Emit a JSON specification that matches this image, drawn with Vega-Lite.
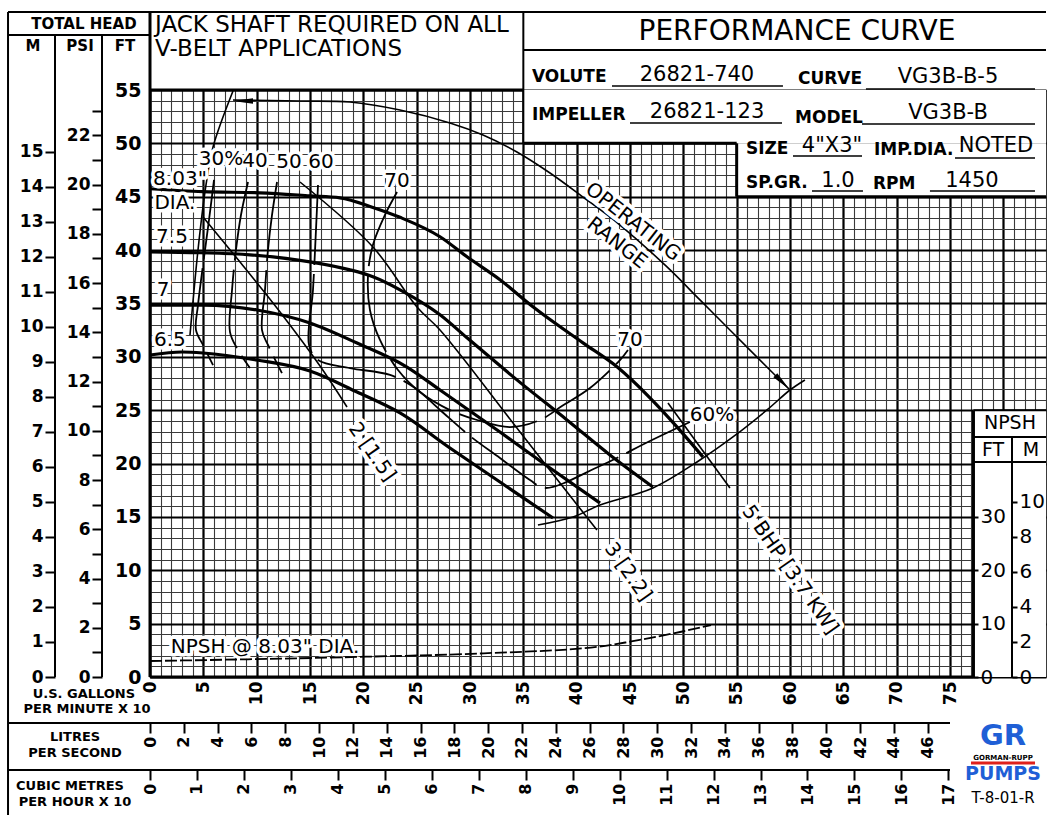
{
"$schema":"https://vega.github.io/schema/vega-lite/v6.json",
"width":896,"height":587,
"autosize":{"type":"none"},
"padding":{"left":150,"top":90,"right":1,"bottom":138},
"background":"white",
"config":{"view":{"stroke":null},"font":"DejaVu Sans","axis":{"labelFont":"DejaVu Sans","labelColor":"black","tickColor":"black","title":null}},
"datasets":{
"heads":[
{"c":"d803","i":0,"x":0,"y":45.75},{"c":"d803","i":1,"x":4.97,"y":45.47},{"c":"d803","i":2,"x":10.31,"y":45.37},{"c":"d803","i":3,"x":15,"y":45.09},{"c":"d803","i":4,"x":17.81,"y":44.9},{"c":"d803","i":5,"x":20.9,"y":44.0},{"c":"d803","i":6,"x":23.44,"y":43.07},{"c":"d803","i":7,"x":27.19,"y":41.25},{"c":"d803","i":8,"x":29.72,"y":39.37},{"c":"d803","i":9,"x":32.81,"y":37.22},{"c":"d803","i":10,"x":35.9,"y":34.69},{"c":"d803","i":11,"x":40.59,"y":31.31},{"c":"d803","i":12,"x":43.78,"y":29.06},{"c":"d803","i":13,"x":46.87,"y":26.16},{"c":"d803","i":14,"x":49.4,"y":23.44},{"c":"d803","i":15,"x":51.84,"y":20.62},
{"c":"d75","i":0,"x":0,"y":39.84},{"c":"d75","i":1,"x":4.69,"y":39.75},{"c":"d75","i":2,"x":9.37,"y":39.56},{"c":"d75","i":3,"x":15,"y":38.9},{"c":"d75","i":4,"x":18.75,"y":38.15},{"c":"d75","i":5,"x":20.9,"y":37.5},{"c":"d75","i":6,"x":23.44,"y":36.28},{"c":"d75","i":7,"x":27.19,"y":33.94},{"c":"d75","i":8,"x":29.72,"y":31.78},{"c":"d75","i":9,"x":34.4,"y":27.84},{"c":"d75","i":10,"x":39.09,"y":24.09},{"c":"d75","i":11,"x":43.12,"y":20.81},{"c":"d75","i":12,"x":47.15,"y":17.81},
{"c":"d7","i":0,"x":0,"y":34.85},{"c":"d7","i":1,"x":4.97,"y":34.85},{"c":"d7","i":2,"x":10.03,"y":34.39},{"c":"d7","i":3,"x":15,"y":33.17},{"c":"d7","i":4,"x":19.41,"y":31.29},{"c":"d7","i":5,"x":24.09,"y":29.04},{"c":"d7","i":6,"x":27.19,"y":26.89},{"c":"d7","i":7,"x":32.81,"y":22.95},{"c":"d7","i":8,"x":37.5,"y":19.58},{"c":"d7","i":9,"x":42.19,"y":16.3},
{"c":"d65","i":0,"x":0,"y":30.17},{"c":"d65","i":1,"x":3.0,"y":30.45},{"c":"d65","i":2,"x":4.97,"y":30.36},{"c":"d65","i":3,"x":10.03,"y":29.7},{"c":"d65","i":4,"x":15,"y":28.67},{"c":"d65","i":5,"x":19.41,"y":26.7},{"c":"d65","i":6,"x":23.44,"y":24.74},{"c":"d65","i":7,"x":28.12,"y":21.46},{"c":"d65","i":8,"x":32.81,"y":18.27},{"c":"d65","i":9,"x":37.78,"y":14.9}
],
"eff":[
{"c":"e30","i":0,"x":6.0,"y":46.57},{"c":"e30","i":1,"x":5.53,"y":42.82},{"c":"e30","i":2,"x":4.97,"y":38.6},{"c":"e30","i":3,"x":4.5,"y":34.85},{"c":"e30","i":4,"x":4.31,"y":32.51},{"c":"e30","i":5,"x":4.97,"y":31.11},{"c":"e30","i":6,"x":5.91,"y":29.23},
{"c":"e40","i":0,"x":9.19,"y":46.38},{"c":"e40","i":1,"x":8.53,"y":43.29},{"c":"e40","i":2,"x":8.06,"y":40.01},{"c":"e40","i":3,"x":7.69,"y":36.26},{"c":"e40","i":4,"x":7.5,"y":32.32},{"c":"e40","i":5,"x":8.25,"y":30.64},{"c":"e40","i":6,"x":9.37,"y":28.95},
{"c":"e50","i":0,"x":11.91,"y":46.38},{"c":"e50","i":1,"x":11.44,"y":43.29},{"c":"e50","i":2,"x":11.06,"y":40.01},{"c":"e50","i":3,"x":10.78,"y":36.26},{"c":"e50","i":4,"x":10.5,"y":32.51},{"c":"e50","i":5,"x":11.06,"y":31.11},{"c":"e50","i":6,"x":12.37,"y":28.48},
{"c":"e60","i":0,"x":15.75,"y":46.1},{"c":"e60","i":1,"x":15.56,"y":41.88},{"c":"e60","i":2,"x":15.28,"y":36.26},{"c":"e60","i":3,"x":14.91,"y":31.11},{"c":"e60","i":4,"x":15.75,"y":29.7},{"c":"e60","i":5,"x":18.75,"y":28.95},{"c":"e60","i":6,"x":22.5,"y":28.3},{"c":"e60","i":7,"x":24.84,"y":27.08},{"c":"e60","i":8,"x":27.19,"y":25.02},{"c":"e60","i":9,"x":30.0,"y":22.58},{"c":"e60","i":10,"x":32.81,"y":20.52},{"c":"e60","i":11,"x":35.62,"y":18.46},{"c":"e60","i":12,"x":37.03,"y":17.71},{"c":"e60","i":13,"x":42.19,"y":19.77},{"c":"e60","i":14,"x":46.87,"y":22.11},{"c":"e60","i":15,"x":50.62,"y":23.89},
{"c":"e70","i":0,"x":23.16,"y":45.44},{"c":"e70","i":1,"x":22.03,"y":43.29},{"c":"e70","i":2,"x":20.9,"y":40.48},{"c":"e70","i":3,"x":20.44,"y":37.67},{"c":"e70","i":4,"x":20.62,"y":34.39},{"c":"e70","i":5,"x":21.56,"y":31.58},{"c":"e70","i":6,"x":23.25,"y":28.76},{"c":"e70","i":7,"x":25.31,"y":26.7},{"c":"e70","i":8,"x":28.12,"y":25.01},{"c":"e70","i":9,"x":30.66,"y":24.08},{"c":"e70","i":10,"x":33.75,"y":23.42},{"c":"e70","i":11,"x":36.56,"y":24.08},{"c":"e70","i":12,"x":38.62,"y":25.39},{"c":"e70","i":13,"x":41.25,"y":27.08},{"c":"e70","i":14,"x":44.06,"y":29.7},{"c":"e70","i":15,"x":44.81,"y":30.64}
],
"thin":[
{"c":"b2","i":0,"x":4.97,"y":43.1},{"c":"b2","i":1,"x":8.44,"y":38.88},{"c":"b2","i":2,"x":12.19,"y":34.2},{"c":"b2","i":3,"x":15.94,"y":29.14},{"c":"b2","i":4,"x":18.47,"y":25.3},
{"c":"b3","i":0,"x":14.06,"y":46.38},{"c":"b3","i":1,"x":20.9,"y":40.29},{"c":"b3","i":2,"x":25.03,"y":34.67},{"c":"b3","i":3,"x":27.19,"y":32.51},{"c":"b3","i":4,"x":34.69,"y":22.95},{"c":"b3","i":5,"x":41.9,"y":13.77},
{"c":"b5","i":0,"x":48.56,"y":25.67},{"c":"b5","i":1,"x":54.37,"y":17.71},
{"c":"opU","i":0,"x":7.78,"y":54.06},{"c":"opU","i":1,"x":14.06,"y":53.97},{"c":"opU","i":2,"x":18.75,"y":53.87},{"c":"opU","i":3,"x":23.44,"y":53.12},{"c":"opU","i":4,"x":28.12,"y":51.91},{"c":"opU","i":5,"x":31.22,"y":50.78},{"c":"opU","i":6,"x":34.4,"y":49.19},{"c":"opU","i":7,"x":37.5,"y":47.22},{"c":"opU","i":8,"x":40.59,"y":44.97},{"c":"opU","i":9,"x":44.06,"y":42.35},{"c":"opU","i":10,"x":48.47,"y":38.42},{"c":"opU","i":11,"x":51.56,"y":35.33},{"c":"opU","i":12,"x":54.65,"y":32.23},{"c":"opU","i":13,"x":58.4,"y":28.48},{"c":"opU","i":14,"x":60.0,"y":26.89},
{"c":"opL","i":0,"x":7.78,"y":54.9},{"c":"opL","i":1,"x":5.91,"y":49.66},{"c":"opL","i":2,"x":5.25,"y":46.1},{"c":"opL","i":3,"x":4.5,"y":40.01},{"c":"opL","i":4,"x":3.75,"y":32.04},
{"c":"opB","i":0,"x":61.4,"y":27.83},{"c":"opB","i":1,"x":60.0,"y":26.89},{"c":"opB","i":2,"x":57.84,"y":25.02},{"c":"opB","i":3,"x":54.65,"y":22.49},{"c":"opB","i":4,"x":51.56,"y":20.33},{"c":"opB","i":5,"x":47.15,"y":17.71},{"c":"opB","i":6,"x":42.19,"y":16.12},{"c":"opB","i":7,"x":39.66,"y":14.99},{"c":"opB","i":8,"x":36.37,"y":14.24}
],
"arrowsL":[{"x":8.9,"y":53.97}],
"arrowsR":[{"x":59.16,"y":27.73}],
"masks":[{"x":35,"x2":84,"y":50,"y2":55},{"x":55,"x2":84,"y":45,"y2":50},{"x":77.2,"x2":84,"y":0,"y2":25}],
"frameHeavy":[
{"x":0,"x2":0,"y":0,"y2":62.31},{"x":0,"x2":77.2,"y":0,"y2":0},{"x":0,"x2":35,"y":55,"y2":55},{"x":35,"x2":55,"y":50,"y2":50},{"x":55,"x2":55,"y":45,"y2":50},{"x":55,"x2":84,"y":45,"y2":45},{"x":77.2,"x2":77.2,"y":0,"y2":25}
],
"frame":[
{"x":-13.31,"x2":84,"y":62.31,"y2":62.31},{"x":-13.31,"x2":-13.31,"y":-12.93,"y2":62.31},{"x":35,"x2":35,"y":50,"y2":62.31},{"x":35,"x2":84,"y":58.75,"y2":58.75},{"x":-13.31,"x2":0,"y":60.15,"y2":60.15},{"x":-8.906,"x2":-8.906,"y":0,"y2":60.15},{"x":-4.5,"x2":-4.5,"y":0,"y2":60.15},
{"x":77.2,"x2":84,"y":25,"y2":25},{"x":77.2,"x2":84,"y":22.49,"y2":22.49},{"x":77.2,"x2":84,"y":20.14,"y2":20.14},{"x":80.81,"x2":80.81,"y":0,"y2":22.49},
{"x":-13.31,"x2":75,"y":-4.31,"y2":-4.31},{"x":-13.31,"x2":75,"y":-8.71,"y2":-8.71}
],
"underlines":[
{"x":43.31,"x2":59.34,"y":55.37,"y2":55.37},{"x":67.12,"x2":82.97,"y":55.09,"y2":55.09},{"x":45.0,"x2":59.25,"y":51.9,"y2":51.9},{"x":66.75,"x2":82.97,"y":51.81,"y2":51.81},{"x":60.28,"x2":66.75,"y":48.81,"y2":48.81},{"x":75.47,"x2":82.97,"y":48.63,"y2":48.63},{"x":62.06,"x2":66.84,"y":45.54,"y2":45.54},{"x":73.12,"x2":82.97,"y":45.54,"y2":45.54}
],
"redline":[{"x":76.97,"x2":82.97,"y":-8.06,"y2":-8.06}],
"texts":[
{"g":"hdr","t":"TOTAL HEAD","x":-6.19,"y":61.18},{"g":"hdr","t":"M","x":-10.97,"y":59.12},{"g":"hdr","t":"PSI","x":-6.56,"y":59.12},{"g":"hdr","t":"FT","x":-2.34,"y":59.12},
{"g":"hdr2","t":"U.S. GALLONS","x":-6.2,"y":-1.58},{"g":"hdr2","t":"PER MINUTE X 10","x":-5.9,"y":-3.0},{"g":"hdr2","t":"LITRES","x":-7.03,"y":-5.62},{"g":"hdr2","t":"PER SECOND","x":-7.03,"y":-7.12},{"g":"hdr2","t":"CUBIC METRES","x":-7.5,"y":-10.21},{"g":"hdr2","t":"PER HOUR X 10","x":-7.03,"y":-11.71},
{"g":"note","t":"JACK SHAFT REQUIRED ON ALL","x":0.47,"y":61.09},{"g":"note","t":"V-BELT APPLICATIONS","x":0.47,"y":58.84},
{"g":"title","t":"PERFORMANCE CURVE","x":60.65,"y":60.43},
{"g":"field","t":"VOLUTE","x":35.81,"y":56.22},{"g":"field","t":"CURVE","x":60.75,"y":56.03},{"g":"field","t":"IMPELLER","x":35.81,"y":52.66},{"g":"field","t":"MODEL","x":60.47,"y":52.38},{"g":"field","t":"SIZE","x":55.87,"y":49.47},{"g":"field","t":"IMP.DIA.","x":67.87,"y":49.38},{"g":"field","t":"SP.GR.","x":55.87,"y":46.29},{"g":"field","t":"RPM","x":67.78,"y":46.19},
{"g":"value","t":"26821-740","x":51.28,"y":56.4},{"g":"value","t":"VG3B-B-5","x":74.81,"y":56.22},{"g":"value","t":"26821-123","x":52.22,"y":52.94},{"g":"value","t":"VG3B-B","x":74.81,"y":52.84},{"g":"value","t":"4\"X3\"","x":63.94,"y":49.75},{"g":"value","t":"NOTED","x":79.31,"y":49.75},{"g":"value","t":"1.0","x":64.5,"y":46.47},{"g":"value","t":"1450","x":77.06,"y":46.47},
{"g":"npsh","t":"NPSH","x":80.62,"y":23.8},{"g":"npsh","t":"FT","x":79.03,"y":21.27},{"g":"npsh","t":"M","x":82.6,"y":21.27},
{"g":"code","t":"T-8-01-R","x":79.97,"y":-11.34}
],
"labels":[
{"g":"lbl","t":"8.03\"","x":2.81,"y":46.66},{"g":"lbl","t":"DIA.","x":2.34,"y":44.41},{"g":"lbl","t":"7.5","x":2.06,"y":41.23},{"g":"lbl","t":"7","x":1.22,"y":36.26},{"g":"lbl","t":"6.5","x":1.87,"y":31.58},
{"g":"lbl","t":"30%","x":6.66,"y":48.53},{"g":"lbl","t":"40","x":9.85,"y":48.35},{"g":"lbl","t":"50","x":13.03,"y":48.25},{"g":"lbl","t":"60","x":16.03,"y":48.25},{"g":"lbl","t":"70","x":23.16,"y":46.47},{"g":"lbl","t":"70","x":45.0,"y":31.58},{"g":"lbl","t":"60%","x":52.69,"y":24.55},
{"g":"lbl","t":"NPSH @ 8.03\" DIA.","x":10.78,"y":2.81},
{"g":"rot","t":"2 [1.5]","x":20.81,"y":21.08},{"g":"rot","t":"3 [2.2]","x":44.81,"y":9.84},{"g":"rot","t":"5 BHP [3.7 KW]","x":60.0,"y":10.03},
{"g":"op","t":"OPERATING","x":45.28,"y":42.63},{"g":"op","t":"RANGE","x":43.78,"y":40.66}
],
"logo":[{"t":"GR","x":79.97,"y":-5.5}],
"logo2":[{"t":"PUMPS","x":79.97,"y":-9.09}],
"logo3":[{"t":"GORMAN-RUPP","x":79.97,"y":-7.62}],
"npsh":[
{"q":0,"n":3.0},{"q":9.19,"n":3.32},{"q":20.25,"n":3.8},{"q":31.3,"n":4.44},{"q":42.0,"n":5.68},{"q":45.0,"n":6.62},{"q":49.8,"n":8.48},{"q":52.6,"n":9.74}
]
},
"layer":[
{"data":{"values":[{"a":0,"b":0}]},"mark":{"type":"point","opacity":0},
 "encoding":{
  "x":{"field":"a","type":"quantitative","scale":{"domain":[0,84],"nice":false,"zero":false},"axis":{"orient":"bottom","grid":true,"values":[0,1,2,3,4,5,6,7,8,9,10,11,12,13,14,15,16,17,18,19,20,21,22,23,24,25,26,27,28,29,30,31,32,33,34,35,36,37,38,39,40,41,42,43,44,45,46,47,48,49,50,51,52,53,54,55,56,57,58,59,60,61,62,63,64,65,66,67,68,69,70,71,72,73,74,75,76,77,78,79,80,81,82,83,84],"labels":false,"ticks":false,"domain":false,"gridColor":"#3a3a3a","gridWidth":1.1,"gridOpacity":1}},
  "y":{"field":"b","type":"quantitative","scale":{"domain":[0,55],"nice":false,"zero":false},"axis":{"orient":"left","grid":true,"values":[0,1,2,3,4,5,6,7,8,9,10,11,12,13,14,15,16,17,18,19,20,21,22,23,24,25,26,27,28,29,30,31,32,33,34,35,36,37,38,39,40,41,42,43,44,45,46,47,48,49,50,51,52,53,54,55],"labels":false,"ticks":false,"domain":false,"gridColor":"#3a3a3a","gridWidth":1.1,"gridOpacity":1}}
 }},
{"data":{"values":[{"a":0,"b":0}]},"mark":{"type":"point","opacity":0},
 "encoding":{
  "x":{"field":"a","type":"quantitative","scale":{"domain":[0,84],"nice":false,"zero":false},"axis":{"orient":"bottom","grid":true,"values":[0,5,10,15,20,25,30,35,40,45,50,55,60,65,70,75,80],"labels":false,"ticks":false,"domain":false,"gridColor":"black","gridWidth":2.2,"gridOpacity":1}},
  "y":{"field":"b","type":"quantitative","scale":{"domain":[0,55],"nice":false,"zero":false},"axis":{"orient":"left","grid":true,"values":[0,5,10,15,20,25,30,35,40,45,50,55],"labels":false,"ticks":false,"domain":false,"gridColor":"black","gridWidth":2.2,"gridOpacity":1}}
 }},
{"layer":[
 {"data":{"name":"masks"},"mark":{"type":"rect","fill":"white"},
  "encoding":{"x":{"field":"x","type":"quantitative","scale":{"domain":[0,84],"nice":false,"zero":false},"axis":null},"x2":{"field":"x2"},"y":{"field":"y","type":"quantitative","scale":{"domain":[0,55],"nice":false,"zero":false},"axis":null},"y2":{"field":"y2"}}},
 {"data":{"name":"frame"},"mark":{"type":"rule","color":"black","strokeWidth":2},
  "encoding":{"x":{"field":"x","type":"quantitative","axis":null},"x2":{"field":"x2"},"y":{"field":"y","type":"quantitative","axis":null},"y2":{"field":"y2"}}},
 {"data":{"name":"frameHeavy"},"mark":{"type":"rule","color":"black","strokeWidth":3},
  "encoding":{"x":{"field":"x","type":"quantitative","axis":null},"x2":{"field":"x2"},"y":{"field":"y","type":"quantitative","axis":null},"y2":{"field":"y2"}}},
 {"data":{"name":"underlines"},"mark":{"type":"rule","color":"black","strokeWidth":1.5},
  "encoding":{"x":{"field":"x","type":"quantitative","axis":null},"x2":{"field":"x2"},"y":{"field":"y","type":"quantitative","axis":null},"y2":{"field":"y2"}}},
 {"data":{"name":"redline"},"mark":{"type":"rule","color":"#e0201b","strokeWidth":3},
  "encoding":{"x":{"field":"x","type":"quantitative","axis":null},"x2":{"field":"x2"},"y":{"field":"y","type":"quantitative","axis":null},"y2":{"field":"y2"}}},
 {"data":{"name":"eff"},"mark":{"type":"line","color":"black","strokeWidth":1.8,"strokeDash":[80,9],"interpolate":"catmull-rom"},
  "encoding":{"x":{"field":"x","type":"quantitative","axis":null},"y":{"field":"y","type":"quantitative","axis":null},"detail":{"field":"c"},"order":{"field":"i"}}},
 {"data":{"name":"thin"},"mark":{"type":"line","color":"black","strokeWidth":1.6,"interpolate":"catmull-rom"},
  "encoding":{"x":{"field":"x","type":"quantitative","axis":null},"y":{"field":"y","type":"quantitative","axis":null},"detail":{"field":"c"},"order":{"field":"i"}}},
 {"data":{"name":"heads"},"mark":{"type":"line","color":"black","strokeWidth":3.2,"interpolate":"monotone"},
  "encoding":{"x":{"field":"x","type":"quantitative","axis":null},"y":{"field":"y","type":"quantitative","axis":null},"detail":{"field":"c"},"order":{"field":"i"}}},
 {"data":{"name":"arrowsL"},"mark":{"type":"point","shape":"M -1.5 0 L 1 -0.35 L 1 0.35 Z","filled":true,"color":"black","size":260,"opacity":1},
  "encoding":{"x":{"field":"x","type":"quantitative","axis":null},"y":{"field":"y","type":"quantitative","axis":null}}},
 {"data":{"name":"arrowsR"},"mark":{"type":"point","shape":"M 1.5 0 L -1 -0.35 L -1 0.35 Z","angle":45,"filled":true,"color":"black","size":260,"opacity":1},
  "encoding":{"x":{"field":"x","type":"quantitative","axis":null},"y":{"field":"y","type":"quantitative","axis":null}}},
 {"data":{"name":"labels"},"transform":[{"filter":"datum.g=='lbl'"}],"mark":{"type":"text","fontSize":20,"stroke":"white","strokeWidth":7,"strokeJoin":"round","fill":"white"},
  "encoding":{"x":{"field":"x","type":"quantitative","axis":null},"y":{"field":"y","type":"quantitative","axis":null},"text":{"field":"t"}}},
 {"data":{"name":"labels"},"transform":[{"filter":"datum.g=='lbl'"}],"mark":{"type":"text","fontSize":20,"fill":"black"},
  "encoding":{"x":{"field":"x","type":"quantitative","axis":null},"y":{"field":"y","type":"quantitative","axis":null},"text":{"field":"t"}}},
 {"data":{"name":"labels"},"transform":[{"filter":"datum.g=='rot'"}],"mark":{"type":"text","fontSize":20,"angle":55,"stroke":"white","strokeWidth":8,"strokeJoin":"round","fill":"white"},
  "encoding":{"x":{"field":"x","type":"quantitative","axis":null},"y":{"field":"y","type":"quantitative","axis":null},"text":{"field":"t"}}},
 {"data":{"name":"labels"},"transform":[{"filter":"datum.g=='rot'"}],"mark":{"type":"text","fontSize":20,"angle":55,"fill":"black"},
  "encoding":{"x":{"field":"x","type":"quantitative","axis":null},"y":{"field":"y","type":"quantitative","axis":null},"text":{"field":"t"}}},
 {"data":{"name":"labels"},"transform":[{"filter":"datum.g=='op'"}],"mark":{"type":"text","fontSize":20,"angle":38,"stroke":"white","strokeWidth":8,"strokeJoin":"round","fill":"white"},
  "encoding":{"x":{"field":"x","type":"quantitative","axis":null},"y":{"field":"y","type":"quantitative","axis":null},"text":{"field":"t"}}},
 {"data":{"name":"labels"},"transform":[{"filter":"datum.g=='op'"}],"mark":{"type":"text","fontSize":20,"angle":38,"fill":"black"},
  "encoding":{"x":{"field":"x","type":"quantitative","axis":null},"y":{"field":"y","type":"quantitative","axis":null},"text":{"field":"t"}}},
 {"data":{"name":"texts"},"transform":[{"filter":"datum.g=='hdr'"}],"mark":{"type":"text","fontSize":15,"fontWeight":"bold"},
  "encoding":{"x":{"field":"x","type":"quantitative","axis":null},"y":{"field":"y","type":"quantitative","axis":null},"text":{"field":"t"}}},
 {"data":{"name":"texts"},"transform":[{"filter":"datum.g=='hdr2'"}],"mark":{"type":"text","fontSize":13,"fontWeight":"bold"},
  "encoding":{"x":{"field":"x","type":"quantitative","axis":null},"y":{"field":"y","type":"quantitative","axis":null},"text":{"field":"t"}}},
 {"data":{"name":"texts"},"transform":[{"filter":"datum.g=='note'"}],"mark":{"type":"text","fontSize":23,"align":"left"},
  "encoding":{"x":{"field":"x","type":"quantitative","axis":null},"y":{"field":"y","type":"quantitative","axis":null},"text":{"field":"t"}}},
 {"data":{"name":"texts"},"transform":[{"filter":"datum.g=='title'"}],"mark":{"type":"text","fontSize":28},
  "encoding":{"x":{"field":"x","type":"quantitative","axis":null},"y":{"field":"y","type":"quantitative","axis":null},"text":{"field":"t"}}},
 {"data":{"name":"texts"},"transform":[{"filter":"datum.g=='field'"}],"mark":{"type":"text","fontSize":17,"fontWeight":"bold","align":"left"},
  "encoding":{"x":{"field":"x","type":"quantitative","axis":null},"y":{"field":"y","type":"quantitative","axis":null},"text":{"field":"t"}}},
 {"data":{"name":"texts"},"transform":[{"filter":"datum.g=='value'"}],"mark":{"type":"text","fontSize":21},
  "encoding":{"x":{"field":"x","type":"quantitative","axis":null},"y":{"field":"y","type":"quantitative","axis":null},"text":{"field":"t"}}},
 {"data":{"name":"texts"},"transform":[{"filter":"datum.g=='npsh'"}],"mark":{"type":"text","fontSize":19},
  "encoding":{"x":{"field":"x","type":"quantitative","axis":null},"y":{"field":"y","type":"quantitative","axis":null},"text":{"field":"t"}}},
 {"data":{"name":"texts"},"transform":[{"filter":"datum.g=='code'"}],"mark":{"type":"text","fontSize":15},
  "encoding":{"x":{"field":"x","type":"quantitative","axis":null},"y":{"field":"y","type":"quantitative","axis":null},"text":{"field":"t"}}},
 {"data":{"name":"logo"},"mark":{"type":"text","fontSize":29,"fontWeight":"bold","fill":"#1f5fd6"},
  "encoding":{"x":{"field":"x","type":"quantitative","axis":null},"y":{"field":"y","type":"quantitative","axis":null},"text":{"field":"t"}}},
 {"data":{"name":"logo2"},"mark":{"type":"text","fontSize":19,"fontWeight":"bold","fill":"#1f5fd6"},
  "encoding":{"x":{"field":"x","type":"quantitative","axis":null},"y":{"field":"y","type":"quantitative","axis":null},"text":{"field":"t"}}},
 {"data":{"name":"logo3"},"mark":{"type":"text","fontSize":7,"fontWeight":"bold","fill":"black"},
  "encoding":{"x":{"field":"x","type":"quantitative","axis":null},"y":{"field":"y","type":"quantitative","axis":null},"text":{"field":"t"}}}
]},
{"data":{"name":"npsh"},"mark":{"type":"line","color":"black","strokeWidth":1.8,"strokeDash":[12,3],"interpolate":"monotone"},
 "encoding":{
  "x":{"field":"q","type":"quantitative","scale":{"domain":[0,84],"nice":false,"zero":false},"axis":null},
  "y":{"field":"n","type":"quantitative","scale":{"domain":[0,110],"nice":false,"zero":false},"axis":{"orient":"right","offset":-73,"values":[0,10,20,30],"tickSize":5,"tickWidth":2,"domain":false,"grid":false,"labelFontSize":20,"labelPadding":2,"zindex":1}}
 }},
{"data":{"values":[{"nm":0}]},"mark":{"type":"point","opacity":0},
 "encoding":{"y":{"field":"nm","type":"quantitative","scale":{"domain":[0,33.528],"nice":false,"zero":false},"axis":{"orient":"right","offset":-34,"values":[0,2,4,6,8,10],"tickSize":5,"tickWidth":2,"domain":false,"grid":false,"labelFontSize":20,"labelPadding":2,"zindex":1}}}},
{"data":{"values":[{"g":0,"f":0}]},"mark":{"type":"point","opacity":0},
 "encoding":{
  "x":{"field":"g","type":"quantitative","scale":{"domain":[0,84],"nice":false,"zero":false},"axis":{"orient":"bottom","values":[0,5,10,15,20,25,30,35,40,45,50,55,60,65,70,75],"ticks":false,"domain":false,"grid":false,"labelAngle":-90,"labelFontSize":17,"labelFontWeight":"bold","labelPadding":4}},
  "y":{"field":"f","type":"quantitative","scale":{"domain":[0,55],"nice":false,"zero":false},"axis":{"orient":"left","values":[0,5,10,15,20,25,30,35,40,45,50,55],"ticks":false,"domain":false,"grid":false,"labelFontSize":19,"labelFontWeight":"bold","labelPadding":9}}
 }},
{"data":{"values":[{"m":0}]},"mark":{"type":"point","opacity":0},
 "encoding":{"y":{"field":"m","type":"quantitative","scale":{"domain":[0,16.764],"nice":false,"zero":false},"axis":{"orient":"left","offset":95,"values":[0,1,2,3,4,5,6,7,8,9,10,11,12,13,14,15],"tickSize":10,"tickWidth":2,"domain":false,"grid":false,"labelFontSize":17,"labelFontWeight":"bold","labelPadding":2}}}},
{"data":{"values":[{"p":0}]},"mark":{"type":"point","opacity":0},
 "encoding":{"y":{"field":"p","type":"quantitative","scale":{"domain":[0,23.843],"nice":false,"zero":false},"axis":{"orient":"left","offset":48,"values":[0,1,2,3,4,5,6,7,8,9,10,11,12,13,14,15,16,17,18,19,20,21,22,23],"labelExpr":"datum.value % 2 == 0 ? datum.label : ''","tickSize":10,"tickWidth":2,"domain":false,"grid":false,"labelFontSize":17,"labelFontWeight":"bold","labelPadding":2}}}},
{"data":{"values":[{"l":0}]},"mark":{"type":"point","opacity":0},
 "encoding":{"x":{"field":"l","type":"quantitative","scale":{"domain":[0,52.997],"nice":false,"zero":false},"axis":{"orient":"bottom","offset":46,"values":[0,2,4,6,8,10,12,14,16,18,20,22,24,26,28,30,32,34,36,38,40,42,44,46],"tickSize":10,"tickWidth":2,"domain":false,"grid":false,"labelAngle":-90,"labelFontSize":16,"labelFontWeight":"bold","labelPadding":3}}}},
{"data":{"values":[{"c":0}]},"mark":{"type":"point","opacity":0},
 "encoding":{"x":{"field":"c","type":"quantitative","scale":{"domain":[0,19.0785],"nice":false,"zero":false},"axis":{"orient":"bottom","offset":93,"values":[0,1,2,3,4,5,6,7,8,9,10,11,12,13,14,15,16,17],"tickSize":10,"tickWidth":2,"domain":false,"grid":false,"labelAngle":-90,"labelFontSize":16,"labelFontWeight":"bold","labelPadding":3}}}}
],
"resolve":{"scale":{"x":"independent","y":"independent"}}
}
